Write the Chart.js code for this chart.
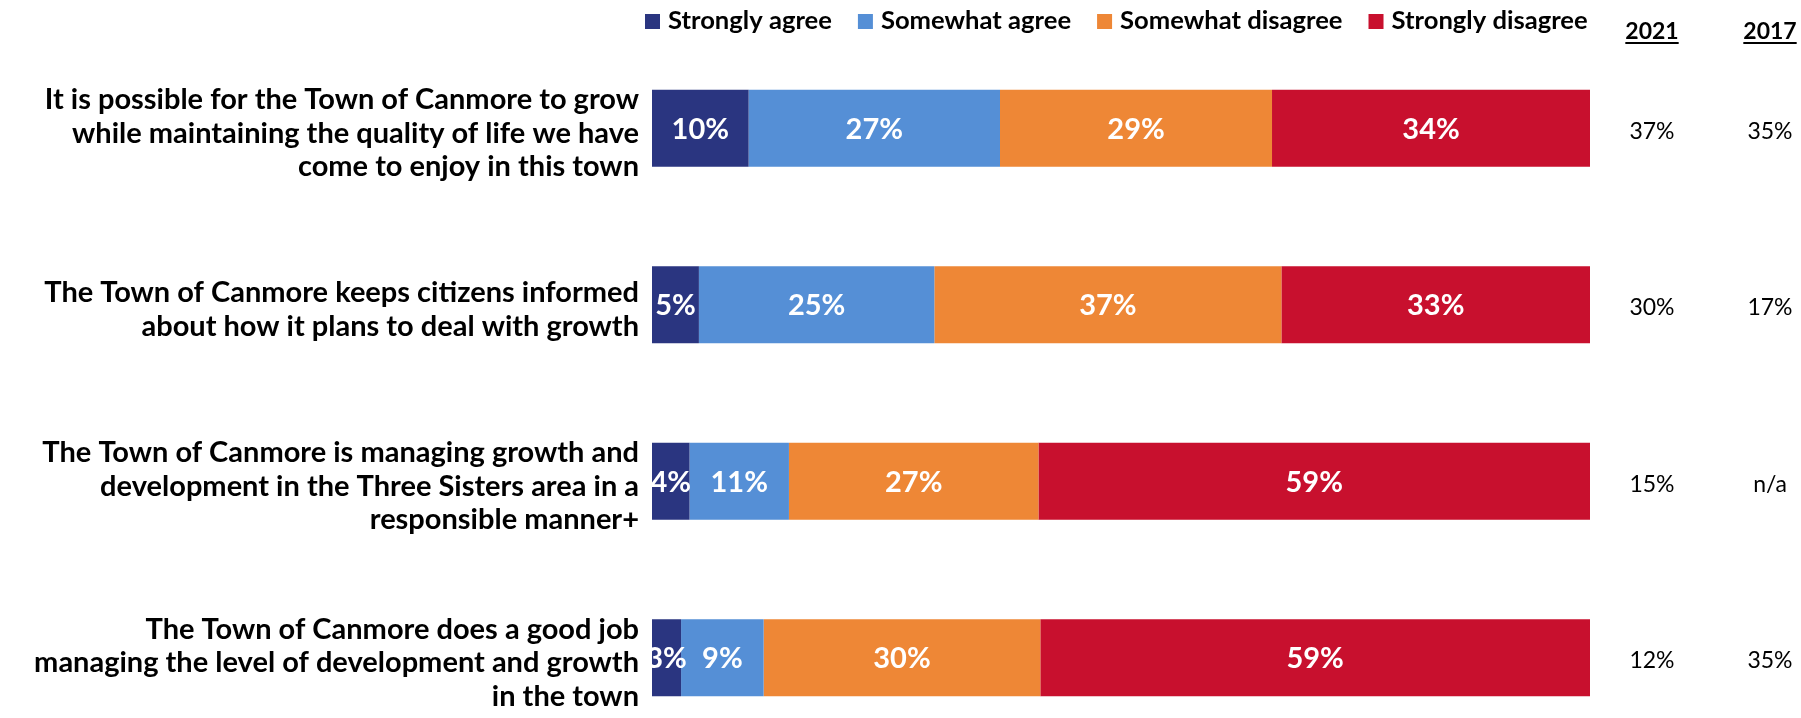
<!DOCTYPE html>
<html><head><meta charset="utf-8">
<script src="https://cdn.jsdelivr.net/npm/chart.js@4.4.1/dist/chart.umd.min.js"></script>
<style>
html,body{margin:0;padding:0;background:#fff;overflow:hidden;width:1801px;height:718px}
#wrap{position:relative;width:1801px;height:760px}
</style></head>
<body><div id="wrap"><canvas id="c" width="1801" height="760"></canvas></div>
<script>
const categories = [
  ['It is possible for the Town of Canmore to grow', 'while maintaining the quality of life we have', 'come to enjoy in this town'],
  ['The Town of Canmore keeps citizens informed', 'about how it plans to deal with growth'],
  ['The Town of Canmore is managing growth and', 'development in the Three Sisters area in a', 'responsible manner+'],
  ['The Town of Canmore does a good job', 'managing the level of development and growth', 'in the town']
];
const seriesNames = ['Strongly agree', 'Somewhat agree', 'Somewhat disagree', 'Strongly disagree'];
const stronglyAgree    = [10.3, 5.0, 4.0, 3.1];
const somewhatAgree    = [26.8, 25.1, 10.6, 8.8];
const somewhatDisagree = [29.0, 37.0, 26.6, 29.5];
const stronglyDisagree = [33.9, 32.9, 58.8, 58.6];
const columnHeaders = ['2021', '2017'];
const agree2021 = ['37%', '30%', '15%', '12%'];
const agree2017 = ['35%', '17%', 'n/a', '35%'];

const colors = ['#2A3580', '#558FD6', '#EE8736', '#C8102E'];
const FONT = 'Lato';

const segmentLabels = {
  id: 'segmentLabels',
  afterDatasetsDraw(chart) {
    const ctx = chart.ctx, ca = chart.chartArea;
    ctx.save();
    ctx.beginPath(); ctx.rect(ca.left, ca.top, ca.right - ca.left, ca.bottom - ca.top); ctx.clip();
    ctx.font = `bold 29px ${FONT}`;
    ctx.fillStyle = '#fff';
    ctx.textAlign = 'center';
    ctx.textBaseline = 'middle';
    chart.data.datasets.forEach((ds, di) => {
      const meta = chart.getDatasetMeta(di);
      meta.data.forEach((bar, i) => {
        const v = ds.data[i];
        ctx.fillText(Math.round(v) + '%', (bar.x + bar.base) / 2, bar.y + 1);
      });
    });
    ctx.restore();
  }
};

const customLegend = {
  id: 'customLegend',
  afterDraw(chart) {
    const ctx = chart.ctx, ca = chart.chartArea;
    ctx.save();
    ctx.font = `bold 25.6px ${FONT}`;
    ctx.textBaseline = 'middle';
    ctx.textAlign = 'left';
    let x = ca.left - 7;
    const yc = 21;
    chart.data.datasets.forEach(ds => {
      ctx.fillStyle = ds.backgroundColor;
      ctx.fillRect(x, yc - 7, 15, 15);
      x += 15 + 8;
      ctx.fillStyle = '#000';
      ctx.fillText(ds.label, x, yc);
      x += ctx.measureText(ds.label).width + 26;
    });
    ctx.restore();
  }
};

const sideColumns = {
  id: 'sideColumns',
  afterDraw(chart) {
    const ctx = chart.ctx, ca = chart.chartArea, ys = chart.scales.y;
    const xs = [ca.right + 62, ca.right + 180];
    const cols = [agree2021, agree2017];
    ctx.save();
    ctx.textAlign = 'center';
    ctx.textBaseline = 'middle';
    ctx.fillStyle = '#000';
    ctx.strokeStyle = '#000';
    ctx.font = `bold 23px ${FONT}`;
    columnHeaders.forEach((h, k) => {
      ctx.fillText(h, xs[k], 32);
      const w = ctx.measureText(h).width;
      ctx.lineWidth = 2;
      ctx.beginPath(); ctx.moveTo(xs[k] - w / 2, 43); ctx.lineTo(xs[k] + w / 2, 43); ctx.stroke();
    });
    ctx.font = `23px ${FONT}`;
    cols.forEach((col, k) => {
      col.forEach((t, i) => {
        ctx.fillText(t, xs[k], ys.getPixelForValue(i) + 3);
      });
    });
    ctx.restore();
  }
};

new Chart(document.getElementById('c'), {
  type: 'bar',
  data: {
    labels: categories,
    datasets: [stronglyAgree, somewhatAgree, somewhatDisagree, stronglyDisagree].map((d, k) => ({
      label: seriesNames[k],
      data: d,
      backgroundColor: colors[k],
      borderWidth: 0,
      categoryPercentage: 1,
      barPercentage: 0.436
    }))
  },
  options: {
    indexAxis: 'y',
    responsive: false,
    animation: false,
    layout: { padding: { top: 40, right: 211, bottom: 14, left: 0 } },
    plugins: { legend: { display: false }, tooltip: { enabled: false } },
    scales: {
      x: { stacked: true, min: 0, max: 100, display: false },
      y: {
        stacked: true,
        grid: { display: false, drawTicks: false },
        border: { display: false },
        afterFit(scale) { scale.width = 652; scale.paddingTop = 0; scale.paddingBottom = 0; },
        ticks: {
          padding: 13,
          labelOffset: 5,
          color: '#000',
          font: { family: FONT, weight: 'bold', size: 29, lineHeight: 1.155 }
        }
      }
    }
  },
  plugins: [segmentLabels, customLegend, sideColumns]
});
</script>
</body></html>
